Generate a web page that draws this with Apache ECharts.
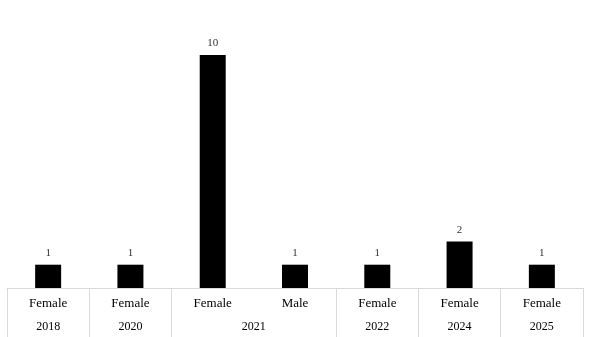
<!DOCTYPE html>
<html>
<head>
<meta charset="utf-8">
<script src="https://cdn.jsdelivr.net/npm/echarts@6/dist/echarts.min.js"></script>
<style>
  html, body { margin: 0; padding: 0; background: #fff; }
  #chart { width: 593px; height: 337px; }
</style>
</head>
<body>
<div id="chart"></div>
<script>
// Count of records by gender, grouped by year
const genders = ['Female', 'Female', 'Female', 'Male', 'Female', 'Female', 'Female'];
const years = ['2018', '2020', '2021', '', '2022', '2024', '2025'];
const counts = [1, 1, 10, 1, 1, 2, 1];
// Index of the category whose left divider is hidden (Male shares 2021 with Female)
const sharedYearStart = 3;

const FONT = '"Liberation Serif", "DejaVu Serif", serif';
const chart = echarts.init(document.getElementById('chart'));

chart.setOption({
  animation: false,
  grid: { left: 7, right: 10, top: 55, bottom: 49, containLabel: false },
  xAxis: [
    {
      type: 'category',
      data: genders,
      position: 'bottom',
      axisLine: { show: true, lineStyle: { color: '#d9d9d9', width: 1 } },
      axisTick: {
        show: true,
        length: 50,
        lineStyle: { color: '#d9d9d9', width: 1 },
        interval: (idx) => idx !== sharedYearStart
      },
      axisLabel: {
        interval: 0,
        margin: 9,
        color: '#000',
        fontFamily: FONT,
        fontSize: 13
      }
    },
    {
      type: 'category',
      data: years,
      position: 'bottom',
      gridIndex: 0,
      axisLine: { show: false },
      axisTick: { show: false },
      axisLabel: {
        interval: 0,
        margin: 33,
        color: '#000',
        fontFamily: FONT,
        fontSize: 12,
        formatter: (v) => v === '2021' ? '{span|' + v + '}' : v,
        rich: {
          span: { fontFamily: FONT, fontSize: 12, color: '#000', padding: [0, 0, 0, 82] }
        }
      }
    }
  ],
  yAxis: { type: 'value', min: 0, max: 10, show: false },
  series: [{
    type: 'bar',
    data: counts,
    xAxisIndex: 0,
    barWidth: 26,
    itemStyle: { color: '#000' },
    label: {
      show: true,
      position: 'top',
      distance: 6,
      color: '#333',
      fontFamily: FONT,
      fontSize: 11
    }
  }]
});
</script>
</body>
</html>
